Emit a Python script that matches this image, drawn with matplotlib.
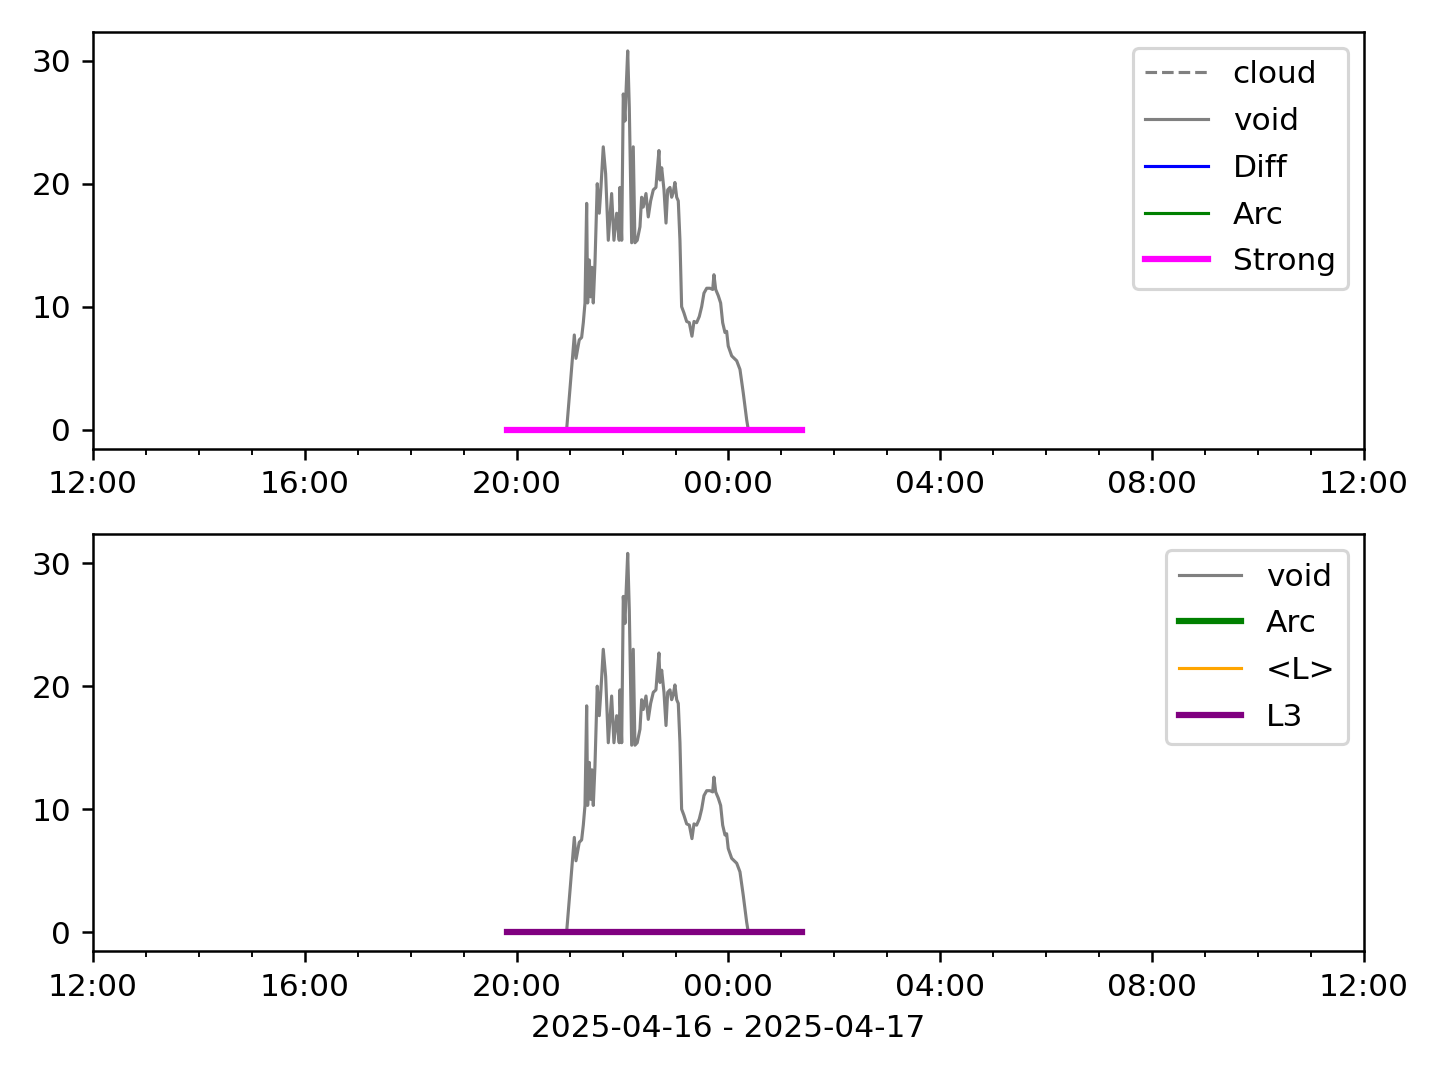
import numpy as np
import pandas as pd
import matplotlib
matplotlib.use("Agg")
import matplotlib.pyplot as plt
import matplotlib.dates as mdates

# void signal, minutes after 2025-04-16 20:00
void_min = [-11.0, 56.6, 61.2, 65.3, 67.2, 70.9, 73.6, 75.5, 77.4, 79.3, 80.4, 82.3, 83.8,
            85.3, 86.8, 88.7, 91.3, 93.6, 95.5, 98.1, 100.8, 103.8, 107.6, 110.2, 113.3,
            116.2, 117.0, 119.0, 120.8, 122.7, 123.8, 125.8, 127.6, 130.3, 132.1, 134.0,
            136.6, 139.7, 141.6, 143.4, 146.5, 149.1, 151.8, 154.8, 157.8, 159.3, 161.2,
            162.4, 164.3, 166.9, 169.2, 171.1, 173.7, 175.6, 177.4, 179.3, 181.3, 183.1,
            185.0, 186.9, 189.5, 192.6, 195.6, 198.6, 200.9, 203.9, 206.9, 209.6, 212.2,
            215.3, 219.0, 222.1, 223.5, 225.5, 228.4, 231.1, 233.4, 236.0, 237.9, 239.7,
            243.6, 249.3, 253.0, 256.7, 260.6, 262.4, 323.0]
void_val = [0.0, 0.0, 4.05, 7.7, 5.8, 7.3, 7.5, 8.7, 10.3, 18.4, 10.3, 13.8, 10.8,
            13.2, 10.3, 13.5, 20.0, 17.6, 19.7, 23.0, 20.8, 15.4, 19.2, 15.4, 17.6,
            15.4, 19.7, 15.4, 27.3, 25.1, 27.3, 30.8, 26.2, 15.2, 23.0, 15.2,
            15.4, 16.5, 18.9, 18.1, 19.2, 17.3, 18.6, 19.5, 19.7, 21.1, 22.7,
            20.3, 21.3, 19.5, 16.8, 19.5, 19.7, 18.9, 19.3, 20.1, 18.9, 18.6,
            15.4, 10.0, 9.5, 8.8, 8.7, 7.6, 8.8, 8.7, 9.2, 10.0, 11.1,
            11.5, 11.5, 11.4, 12.6, 11.4, 10.9, 10.3, 8.7, 7.9, 8.0, 6.8,
            6.0, 5.6, 4.9, 3.0, 0.8, 0.0, 0.0]

# flag segments (value 0) from 19:49 to 01:23
flag_min = [-11.0, 323.0]
flag_val = [0.0, 0.0]

t0 = pd.Timestamp("2025-04-16 20:00")
void_t = t0 + pd.to_timedelta(void_min, unit="min")
flag_t = t0 + pd.to_timedelta(flag_min, unit="min")
xlim = (pd.Timestamp("2025-04-16 12:00"), pd.Timestamp("2025-04-17 12:00"))

fig, (ax1, ax2) = plt.subplots(2, 1, figsize=(6.4, 4.8), dpi=225)

ax1.plot([], [], color="gray", ls="--", lw=1, label="cloud")
ax1.plot(void_t, void_val, color="gray", lw=1, label="void")
ax1.plot([], [], color="blue", lw=1, label="Diff")
ax1.plot([], [], color="green", lw=1, label="Arc")
ax1.plot(flag_t, flag_val, color="magenta", lw=2, label="Strong")
ax1.legend(loc="upper right", labelspacing=0.57)

ax2.plot(void_t, void_val, color="gray", lw=1, label="void")
ax2.plot([], [], color="green", lw=2, label="Arc")
ax2.plot([], [], color="orange", lw=1, label="<L>")
ax2.plot(flag_t, flag_val, color="purple", lw=2, label="L3")
ax2.legend(loc="upper right", labelspacing=0.57)
ax2.set_xlabel("2025-04-16 - 2025-04-17")

for ax in (ax1, ax2):
    ax.set_xlim(xlim)
    ax.xaxis.set_major_locator(mdates.HourLocator(byhour=range(0, 24, 4)))
    ax.xaxis.set_minor_locator(mdates.HourLocator())
    ax.xaxis.set_major_formatter(mdates.DateFormatter("%H:%M"))

fig.subplots_adjust(left=0.0646, right=0.9472, top=0.9704, bottom=0.1194, hspace=0.206)
fig.savefig("out.png")
